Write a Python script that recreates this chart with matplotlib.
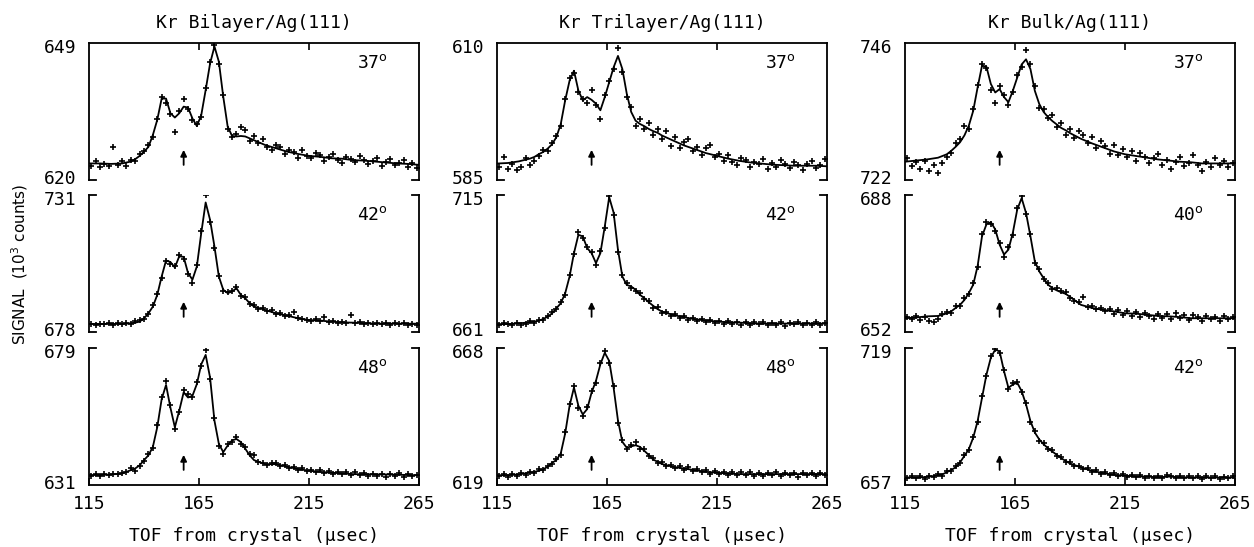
import matplotlib
matplotlib.use("Agg")
import matplotlib.pyplot as plt
from matplotlib.transforms import ScaledTranslation

# TOF grid of the fitted curves and of the measured channels (usec)
TOF_FIT = [115, 120, 125, 130,
           132, 134, 136, 138, 140, 142, 144, 146, 148, 150,
           152, 154, 156, 158, 160, 162, 164, 166, 168, 170,
           172, 174, 176, 178, 180, 182, 184, 186, 188, 190,
           195, 200, 205, 210, 215, 220, 225, 230, 235, 240, 245, 250, 255, 260, 265]
TOF_DATA = [116, 118, 120, 122, 124, 126, 128, 130, 132, 134,
            136, 138, 140, 142, 144, 146, 148, 150, 152, 154,
            156, 158, 160, 162, 164, 166, 168, 170, 172, 174,
            176, 178, 180, 182, 184, 186, 188, 190, 192, 194,
            196, 198, 200, 202, 204, 206, 208, 210, 212, 214,
            216, 218, 220, 222, 224, 226, 228, 230, 232, 234,
            236, 238, 240, 242, 244, 246, 248, 250, 252, 254,
            256, 258, 260, 262, 264]

TITLES = ["Kr Bilayer/Ag(111)", "Kr Trilayer/Ag(111)", "Kr Bulk/Ag(111)"]
ANGLES = [["37", "42", "48"], ["37", "42", "48"], ["37", "40", "42"]]
Y_RANGES = [[(620, 649), (678, 731), (631, 679)],
            [(585, 610), (661, 715), (619, 668)],
            [(722, 746), (652, 688), (657, 719)]]
ARROW_TOF = 158

# ---- Bilayer ----
fit_bi_37 = [623.5, 623.5, 623.4, 623.5,
             623.7, 623.9, 624.4, 625.1, 626.0, 627.0, 629.5, 632.7, 637.2, 637.2,
             634.1, 633.2, 634.1, 635.5, 635.3, 633.0, 631.4, 633.7, 639.0, 644.6,
             648.2, 645.0, 637.6, 631.3, 629.3, 629.2, 629.3, 629.2, 628.8, 628.4,
             627.4, 626.7, 626.0, 625.5, 625.1, 624.9, 624.6, 624.5, 624.2, 624.1,
             623.9, 623.7, 623.5, 623.4, 623.2]
data_bi_37 = [623.0, 624.0, 622.8, 623.3, 622.9, 627.0, 623.2, 624.1, 623.0, 624.3,
              624.0, 625.6, 626.2, 627.3, 629.0, 632.9, 637.5, 636.3, 634.0, 630.2,
              634.5, 637.1, 635.0, 632.6, 631.8, 633.3, 639.4, 645.0, 648.5, 644.5,
              638.0, 630.8, 629.0, 629.8, 631.3, 630.6, 628.3, 629.3, 627.9, 628.6,
              627.0, 626.4, 627.5, 626.9, 625.4, 626.3, 625.9, 624.7, 626.4, 625.0,
              624.6, 625.8, 625.2, 624.1, 624.8, 625.6, 624.2, 623.6, 624.9, 624.4,
              623.8, 625.0, 624.3, 623.4, 624.0, 624.7, 622.9, 623.8, 624.4, 623.1,
              623.7, 624.2, 622.8, 623.5, 622.6]

fit_bi_42 = [681.1, 681.1, 681.1, 681.1,
             681.2, 681.4, 681.6, 682.0, 683.3, 685.2, 687.8, 692.3, 699.4, 705.6,
             705.0, 702.9, 707.2, 707.0, 700.7, 698.2, 703.3, 716.2, 728.0, 721.3,
             711.0, 699.4, 694.3, 693.0, 693.6, 694.9, 692.3, 691.0, 689.1, 687.8,
             686.5, 685.2, 684.3, 683.3, 682.6, 682.4, 682.0, 681.7, 681.6, 681.4,
             681.2, 681.2, 681.2, 681.2, 681.2]
data_bi_42 = [681.0, 680.6, 681.2, 680.9, 681.3, 680.8, 681.4, 681.0, 681.5, 681.2,
              682.1, 682.6, 683.0, 685.0, 688.3, 692.6, 699.0, 705.4, 704.3, 703.3,
              707.6, 706.2, 700.2, 697.0, 703.8, 716.8, 730.8, 720.5, 710.4, 699.8,
              694.0, 693.4, 693.8, 695.3, 692.0, 691.4, 688.7, 688.3, 687.0, 687.2,
              686.0, 686.3, 685.0, 685.4, 684.2, 684.6, 685.9, 683.4, 683.0, 682.8,
              682.4, 682.9, 682.2, 683.9, 681.8, 682.3, 681.6, 682.0, 681.4, 684.6,
              681.5, 681.9, 681.2, 681.6, 680.9, 681.5, 681.0, 681.4, 680.8, 681.3,
              680.9, 681.5, 680.8, 681.2, 680.6]

fit_bi_48 = [634.5, 634.5, 634.7, 635.0,
             635.6, 636.2, 636.8, 637.9, 639.7, 641.4, 644.3, 651.2, 661.0, 666.0,
             658.0, 651.2, 657.0, 663.4, 661.6, 662.2, 666.3, 673.2, 676.5, 668.6,
             653.5, 645.4, 642.5, 644.8, 646.6, 647.1, 646.0, 643.7, 641.4, 639.7,
             638.3, 638.3, 637.4, 636.6, 636.0, 635.6, 635.3, 635.1, 634.8, 634.8,
             634.7, 634.7, 634.6, 634.5, 634.4]
data_bi_48 = [634.2, 634.8, 634.3, 634.9, 634.4, 634.7, 634.9, 635.3, 635.6, 636.8,
              635.9, 637.5, 639.4, 641.9, 644.0, 652.0, 661.6, 667.2, 658.9, 650.6,
              656.4, 664.2, 662.7, 661.6, 667.0, 672.6, 678.2, 668.0, 654.3, 644.8,
              641.7, 645.4, 646.2, 647.8, 645.3, 644.4, 642.0, 641.5, 639.2, 638.7,
              637.9, 638.6, 638.8, 637.7, 637.9, 636.9, 637.4, 636.4, 636.9, 635.8,
              636.3, 635.4, 636.1, 635.2, 635.8, 634.9, 635.5, 634.7, 635.4, 634.5,
              635.6, 634.6, 635.2, 634.3, 635.0, 634.2, 634.9, 633.8, 634.9, 634.1,
              635.1, 633.9, 634.7, 634.0, 634.6]

# ---- Trilayer ----
fit_tri_37 = [588.0, 588.1, 588.4, 588.9,
              589.2, 589.7, 590.1, 590.7, 591.5, 592.8, 595.2, 599.5, 603.1, 604.9,
              601.3, 599.5, 600.1, 599.6, 598.9, 597.7, 600.1, 602.8, 605.5, 607.6,
              605.2, 600.7, 597.4, 595.8, 595.2, 594.8, 594.3, 593.9, 593.6, 593.1,
              592.2, 591.3, 590.6, 589.9, 589.4, 588.9, 588.5, 588.2, 588.0, 587.8,
              587.7, 587.6, 587.6, 587.6, 587.5]
data_tri_37 = [587.3, 589.2, 587.0, 588.0, 586.8, 587.4, 589.0, 587.7, 588.5, 589.3,
               590.4, 590.2, 591.8, 593.0, 594.8, 599.8, 603.6, 604.4, 601.0, 599.8,
               599.0, 601.4, 598.6, 596.2, 600.4, 603.0, 605.2, 609.1, 604.6, 600.2,
               598.3, 594.8, 596.2, 594.3, 595.3, 593.2, 594.3, 592.4, 593.9, 591.2,
               592.8, 590.8, 591.9, 592.4, 590.2, 591.0, 589.5, 590.9, 591.3, 589.2,
               589.8, 588.4, 589.6, 588.2, 587.7, 589.1, 588.6, 587.3, 588.3, 587.9,
               588.8, 587.0, 588.1, 587.4, 588.7, 587.9, 587.2, 588.3, 587.7, 586.9,
               588.0, 588.5, 587.1, 587.8, 588.9]

fit_tri_42 = [664.1, 664.1, 664.4, 664.8,
              665.1, 665.4, 666.1, 667.0, 668.3, 670.3, 672.3, 676.2, 682.8, 692.0,
              699.2, 698.6, 694.0, 692.0, 688.1, 692.0, 702.5, 714.0, 708.0, 693.3,
              682.8, 679.5, 678.9, 677.6, 675.6, 674.3, 672.7, 671.3, 670.0, 669.0,
              667.7, 666.8, 666.0, 665.5, 665.1, 664.8, 664.7, 664.4, 664.3, 664.3,
              664.3, 664.3, 664.3, 664.3, 664.3]
data_tri_42 = [663.8, 664.5, 664.0, 663.6, 664.6, 663.9, 664.3, 665.2, 664.6, 665.9,
               665.8, 667.4, 668.8, 669.9, 672.8, 675.7, 683.4, 691.5, 700.2, 697.8,
               694.6, 692.6, 687.5, 692.8, 701.8, 714.3, 707.2, 692.6, 683.4, 680.3,
               678.4, 677.0, 676.3, 673.8, 673.3, 670.6, 670.8, 668.4, 668.9, 667.4,
               668.0, 666.4, 667.3, 665.8, 666.6, 665.4, 666.2, 664.9, 665.8, 664.6,
               665.4, 664.3, 665.3, 664.1, 665.0, 663.9, 664.9, 663.7, 664.8, 664.0,
               664.9, 663.6, 664.7, 663.9, 664.8, 663.5, 664.6, 664.0, 664.9, 663.7,
               664.5, 663.8, 664.9, 663.6, 664.7]

fit_tri_48 = [622.5, 622.5, 622.8, 623.4,
              623.7, 624.1, 624.6, 625.5, 626.9, 627.9, 630.3, 637.4, 647.3, 653.8,
              647.3, 644.2, 646.1, 652.0, 656.2, 662.1, 666.2, 663.3, 653.8, 642.0,
              634.4, 632.3, 632.8, 633.2, 632.6, 631.2, 629.7, 628.1, 627.3, 626.5,
              625.5, 624.9, 624.3, 623.7, 623.4, 623.1, 622.9, 622.9, 622.9, 622.9,
              622.9, 622.9, 622.9, 622.9, 622.9]
data_tri_48 = [622.3, 623.0, 621.8, 622.9, 622.2, 623.2, 622.6, 623.8, 623.4, 624.6,
               624.2, 625.8, 626.4, 628.4, 629.8, 638.0, 648.0, 654.2, 646.5, 643.8,
               646.8, 652.6, 655.5, 662.7, 667.0, 662.5, 654.4, 641.2, 634.9, 632.0,
               633.4, 634.2, 632.0, 631.7, 629.2, 628.6, 627.0, 627.2, 625.8, 626.3,
               625.1, 625.7, 624.5, 625.3, 623.9, 624.7, 623.5, 624.3, 623.1, 624.0,
               622.8, 623.8, 622.6, 623.7, 622.5, 623.5, 622.4, 623.6, 622.3, 623.4,
               622.1, 623.3, 622.6, 623.5, 622.2, 623.3, 622.5, 623.4, 622.0, 623.2,
               622.6, 623.4, 622.1, 623.2, 622.5]

# ---- Bulk ----
fit_bulk_37 = [725.2, 725.4, 725.6, 725.9,
               726.2, 726.5, 727.1, 727.8, 728.6, 729.8, 731.5, 734.1, 738.2, 742.0,
               741.8, 738.8, 737.3, 737.9, 736.5, 735.6, 737.6, 739.9, 742.2, 743.1,
               741.4, 737.6, 735.3, 733.9, 733.0, 732.3, 731.7, 731.1, 730.7, 730.2,
               729.2, 728.4, 727.7, 727.0, 726.5, 726.2, 725.9, 725.6, 725.4, 725.2,
               725.1, 724.9, 724.9, 724.9, 724.9]
data_bulk_37 = [725.9, 724.5, 725.2, 724.0, 725.4, 723.6, 724.6, 723.3, 725.0, 726.0,
                726.7, 728.4, 729.2, 731.5, 731.0, 734.5, 738.6, 742.3, 741.6, 737.8,
                735.4, 738.4, 736.9, 735.2, 737.4, 740.3, 741.8, 744.8, 742.2, 738.4,
                734.6, 734.5, 732.8, 733.4, 731.2, 732.0, 729.8, 730.9, 729.4, 730.6,
                729.8, 728.5, 729.6, 727.6, 728.9, 727.9, 726.6, 728.1, 726.4, 727.4,
                726.0, 727.0, 725.4, 726.8, 726.1, 724.9, 725.8, 726.5, 724.6, 725.5,
                723.9, 725.2, 726.1, 724.4, 725.0, 726.4, 724.7, 723.6, 725.1, 724.3,
                725.9, 724.6, 725.3, 724.2, 725.0]

fit_bulk_40 = [655.6, 655.8, 656.1, 656.2,
               656.5, 656.9, 657.4, 658.3, 659.1, 660.4, 662.2, 664.4, 669.3, 677.1,
               680.2, 680.8, 678.9, 674.9, 672.3, 673.6, 678.0, 684.1, 687.1, 683.2,
               677.1, 670.5, 667.9, 666.1, 664.4, 663.5, 662.9, 662.4, 662.0, 661.2,
               659.1, 658.3, 657.8, 657.4, 656.9, 656.8, 656.5, 656.2, 656.1, 655.9,
               655.6, 655.6, 655.6, 655.6, 655.6]
data_bulk_40 = [656.0, 655.4, 656.3, 655.2, 656.0, 655.0, 654.6, 655.3, 656.8, 657.3,
                657.0, 658.8, 658.7, 660.8, 662.0, 664.9, 669.0, 677.6, 680.8, 680.3,
                678.6, 675.3, 671.6, 674.2, 677.4, 684.6, 687.6, 682.9, 677.6, 670.0,
                668.4, 665.8, 664.9, 663.2, 663.4, 662.8, 662.5, 660.8, 660.2, 659.9,
                661.3, 658.6, 658.8, 657.9, 658.4, 657.5, 658.1, 656.8, 657.7, 656.4,
                657.4, 656.2, 657.3, 656.0, 657.0, 656.3, 655.4, 656.8, 655.7, 656.6,
                655.3, 656.9, 655.6, 656.4, 655.1, 656.5, 655.8, 654.8, 656.2, 655.4,
                656.0, 654.9, 656.1, 655.3, 655.9]

fit_bulk_42 = [660.4, 660.4, 660.6, 661.4,
               661.8, 662.8, 663.8, 665.0, 667.2, 670.2, 673.2, 678.4, 685.9, 696.4,
               706.8, 714.5, 718.2, 717.3, 708.4, 700.9, 702.4, 703.2, 699.4, 693.4,
               685.9, 680.7, 677.6, 675.4, 673.6, 672.1, 670.6, 669.1, 667.9, 666.7,
               665.0, 663.4, 662.4, 661.6, 661.2, 660.9, 660.8, 660.5, 660.8, 660.5,
               660.4, 660.4, 660.4, 660.4, 660.4]
data_bulk_42 = [660.0, 661.1, 660.2, 661.0, 659.8, 661.3, 660.4, 661.8, 661.2, 663.4,
                663.3, 665.6, 666.8, 670.6, 672.8, 678.8, 685.4, 697.0, 706.2, 715.1,
                718.6, 716.8, 709.0, 700.3, 703.0, 703.6, 698.8, 693.9, 685.3, 681.2,
                677.0, 675.9, 673.1, 672.7, 670.1, 669.6, 667.4, 667.2, 665.8, 665.5,
                664.3, 664.9, 663.0, 663.8, 662.2, 663.0, 661.5, 662.3, 661.0, 661.9,
                660.7, 661.6, 660.5, 661.5, 660.3, 661.3, 660.1, 661.1, 660.2, 661.4,
                661.0, 660.3, 661.2, 660.0, 661.0, 660.2, 661.1, 659.9, 660.9, 660.1,
                661.0, 659.8, 660.8, 660.0, 660.9]

FITS = [[fit_bi_37, fit_bi_42, fit_bi_48],
        [fit_tri_37, fit_tri_42, fit_tri_48],
        [fit_bulk_37, fit_bulk_40, fit_bulk_42]]
DATA = [[data_bi_37, data_bi_42, data_bi_48],
        [data_tri_37, data_tri_42, data_tri_48],
        [data_bulk_37, data_bulk_40, data_bulk_42]]

MONO = "DejaVu Sans Mono"
FS = 13
LW = 1.3

# panel placement (figure fractions)
COL_LEFT = [0.0710, 0.3963, 0.7217]
ROW_BOTTOM = [0.6709, 0.3931, 0.1133]
W, H = 0.2632, 0.2510

fig = plt.figure(figsize=(12.54, 5.47), dpi=100)

for c in range(3):
    for r in range(3):
        ymin, ymax = Y_RANGES[c][r]
        ax = fig.add_axes([COL_LEFT[c], ROW_BOTTOM[r], W, H])
        ax.plot(TOF_FIT, FITS[c][r], color="k", lw=1.3)
        ax.plot(TOF_DATA, DATA[c][r], ls="none", marker="+", ms=5, mew=1.2, color="k")
        ax.set_xlim(115, 265)
        ax.set_ylim(ymin, ymax)

        for s in ax.spines.values():
            s.set_linewidth(LW)
        ax.spines["top"].set_visible(r == 0)
        ax.spines["bottom"].set_visible(r == 2)
        # little corner stubs where the box edge is not drawn
        if r > 0:
            ax.plot([0, 0.02], [1, 1], transform=ax.transAxes, clip_on=False, color="k", lw=LW)
            ax.plot([0.98, 1], [1, 1], transform=ax.transAxes, clip_on=False, color="k", lw=LW)
        if r < 2:
            ax.plot([0, 0.02], [0, 0], transform=ax.transAxes, clip_on=False, color="k", lw=LW)
            ax.plot([0.98, 1], [0, 0], transform=ax.transAxes, clip_on=False, color="k", lw=LW)

        ax.set_yticks([ymin, ymax])
        ax.set_yticklabels([str(ymin), str(ymax)], family=MONO, fontsize=FS)
        ax.tick_params(axis="y", length=0, pad=9)
        # nudge the end labels apart so stacked panels don't collide
        lo, hi = ax.get_yticklabels()
        lo.set_transform(lo.get_transform() + ScaledTranslation(0, 2.5 / 72, fig.dpi_scale_trans))
        hi.set_transform(hi.get_transform() + ScaledTranslation(0, -2.5 / 72, fig.dpi_scale_trans))

        if r == 0:
            ax.set_xticks([165, 215])
            ax.tick_params(axis="x", bottom=False, top=True, labelbottom=False,
                           direction="in", length=5, width=1.2)
        elif r == 1:
            ax.set_xticks([])
        else:
            ax.set_xticks([115, 165, 215, 265])
            ax.set_xticklabels(["115", "165", "215", "265"], family=MONO, fontsize=FS)
            ax.tick_params(axis="x", direction="in", length=5, width=1.2, pad=7)

        ax.text(0.905, 0.85, ANGLES[c][r] + r"$^{\rm o}$", transform=ax.transAxes,
                ha="right", va="center", family=MONO, fontsize=FS)

        ax.annotate("", xy=(ARROW_TOF, 0.22), xytext=(ARROW_TOF, 0.11),
                    xycoords=("data", "axes fraction"), textcoords=("data", "axes fraction"),
                    arrowprops=dict(arrowstyle="-|>", color="k", lw=1.3,
                                    mutation_scale=9, shrinkA=0, shrinkB=0))

    xc = COL_LEFT[c] + W / 2
    fig.text(xc, 0.958, TITLES[c], ha="center", va="center", family=MONO, fontsize=FS)
    fig.text(xc, 0.02, "TOF from crystal (\u00b5sec)", ha="center", va="center",
             family=MONO, fontsize=FS)

fig.text(0.016, 0.517, "SIGNAL  (10$^3$ counts)", rotation=90, ha="center", va="center",
         family="DejaVu Sans", fontsize=11)

fig.savefig("out.png", dpi=100)
